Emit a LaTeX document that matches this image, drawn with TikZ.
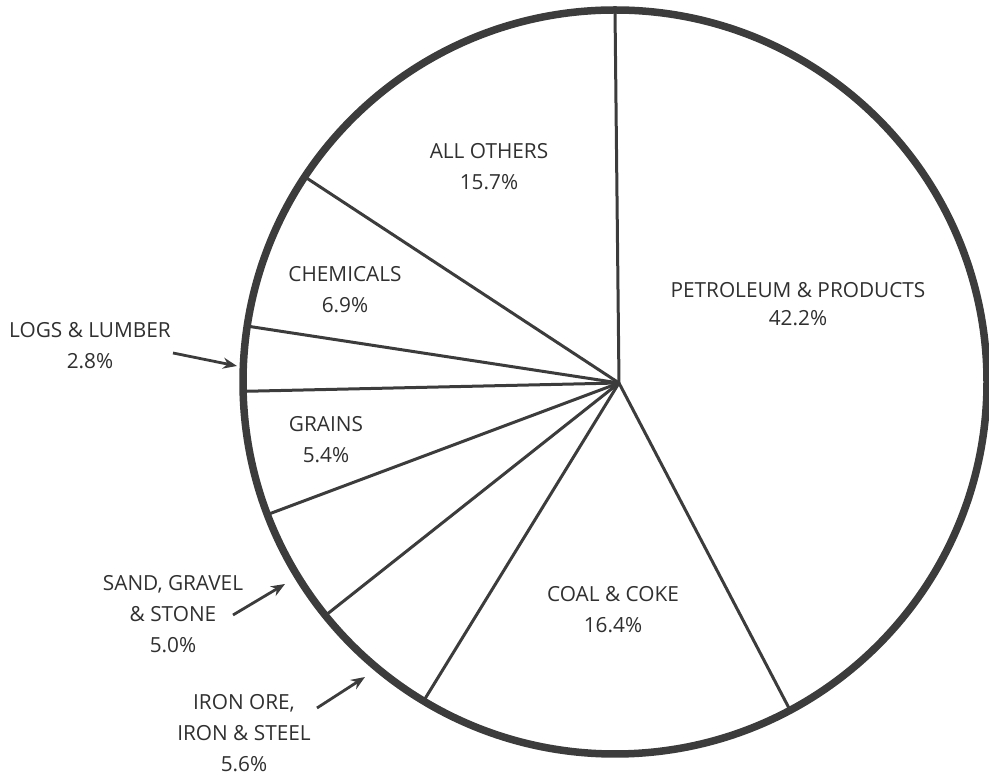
\documentclass[tikz,border=0pt]{standalone}
\usepackage{fontspec}
\setmainfont{Open Sans}
\usetikzlibrary{arrows.meta}
\definecolor{ink}{HTML}{3C3C3C}
\definecolor{txt}{HTML}{303030}
\begin{document}
\begin{tikzpicture}[x=1pt,y=1pt,
  rim/.style={draw=ink,line width=7.5pt},
  spoke/.style={draw=ink,line width=3pt},
  lbl/.style={text=txt,align=center,font=\fontsize{20.8}{31}\selectfont,inner sep=0pt},
  pointer/.style={draw=ink,line width=2.8pt,-{Stealth[length=14pt,width=11pt]}}]
\path[use as bounding box] (0,0) rectangle (989,776);
\coordinate (C) at (615,394);
\coordinate (H) at (619,393);
\foreach \a/\n in {90/s0,-61.92/s1,-120.96/s2,-141.12/s3,-159.12/s4,-178.56/s5,-188.64/s6,-213.48/s7}
  \path (C) ++(\a:372pt) coordinate (\n);
\foreach \n in {s0,s1,s2,s3,s4,s5,s6,s7}
  \draw[spoke] (H) -- (\n);
\draw[rim] (C) circle[radius=372pt];
% labels
\node[lbl] (others) at (489,609.5) {ALL OTHERS\\15.7\%};
\node[lbl,font=\fontsize{20.8}{28}\selectfont] (petro) at (798,472) {PETROLEUM \& PRODUCTS\\42.2\%};
\node[lbl] (chem) at (345,486) {CHEMICALS\\6.9\%};
\node[lbl] (logs) at (90,430) {LOGS \& LUMBER\\2.8\%};
\node[lbl] (grains) at (326,336) {GRAINS\\5.4\%};
\node[lbl] (sand) at (173,162) {SAND, GRAVEL\\\& STONE\\5.0\%};
\node[lbl] (iron) at (244,42.5) {IRON ORE,\\IRON \& STEEL\\5.6\%};
\node[lbl] (coal) at (613,166) {COAL \& COKE\\16.4\%};
% pointers
\coordinate (logsA) at (173,423);
\coordinate (logsT) at (237,410);
\coordinate (sandA) at (233,161);
\coordinate (sandT) at (285,192);
\coordinate (ironA) at (317,68);
\coordinate (ironT) at (365,99);
\draw[pointer] (logsA) -- (logsT);
\draw[pointer] (sandA) -- (sandT);
\draw[pointer] (ironA) -- (ironT);
\end{tikzpicture}
\end{document}
